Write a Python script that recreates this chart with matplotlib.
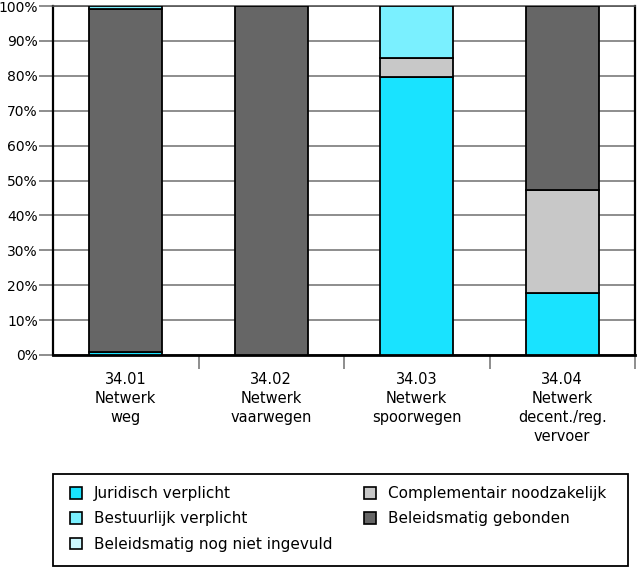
import matplotlib
matplotlib.use("Agg")
import matplotlib.pyplot as plt
from matplotlib.patches import Patch, Rectangle
import numpy as np

categories = ["34.01\nNetwerk\nweg", "34.02\nNetwerk\nvaarwegen",
              "34.03\nNetwerk\nspoorwegen", "34.04\nNetwerk\ndecent./reg.\nvervoer"]
series_names = ["Juridisch verplicht", "Bestuurlijk verplicht",
                "Beleidsmatig nog niet ingevuld", "Complementair noodzakelijk",
                "Beleidsmatig gebonden"]
juridisch = [0.8, 0.0, 79.6, 17.8]
bestuurlijk = [0.8, 0.0, 14.9, 0.0]
nog_niet = [0.0, 0.0, 0.0, 0.0]
complementair = [0.0, 0.0, 5.5, 29.5]
gebonden = [98.4, 100.0, 0.0, 52.7]
colors = {"Juridisch verplicht": "#19E3FF",
          "Bestuurlijk verplicht": "#7AF0FF",
          "Beleidsmatig nog niet ingevuld": "#CCF8FF",
          "Complementair noodzakelijk": "#C8C8C8",
          "Beleidsmatig gebonden": "#666666"}
y_ticks = [0, 10, 20, 30, 40, 50, 60, 70, 80, 90, 100]

plt.rcParams['font.family'] = ['DejaVu Sans']
W, H = 637, 568
fig = plt.figure(figsize=(W/100, H/100), dpi=100)
ax = fig.add_axes([53/W, 1-355/H, (635-53)/W, (355-6)/H])

x = np.arange(len(categories))
stack_order = [("Juridisch verplicht", juridisch),
               ("Complementair noodzakelijk", complementair),
               ("Beleidsmatig gebonden", gebonden),
               ("Bestuurlijk verplicht", bestuurlijk),
               ("Beleidsmatig nog niet ingevuld", nog_niet)]
bottom = np.zeros(len(categories))
for name, vals in stack_order:
    v = np.array(vals, dtype=float)
    mask = v > 0
    ax.bar(x[mask], v[mask], bottom=bottom[mask], width=0.5, color=colors[name],
           edgecolor="black", linewidth=1.3, zorder=3)
    bottom += v

ax.set_xlim(-0.5, 3.5)
ax.set_ylim(0, 100)
ax.set_yticks(y_ticks)
ax.set_yticklabels([f"{t}%" for t in y_ticks], fontsize=10)
ax.yaxis.grid(True, color="#7a7a7a", linewidth=1.2, zorder=0)
ax.set_axisbelow(True)
ax.tick_params(axis="y", length=10, width=1.2, color="#7a7a7a", pad=1)

ax.set_xticks([0.5, 1.5, 2.5, 3.5])
ax.set_xticklabels([])
ax.set_xticks(x, minor=True)
ax.set_xticklabels(categories, minor=True, fontsize=10.5, linespacing=1.35, va="top")
ax.tick_params(axis="x", which="major", length=10, width=1.2, color="#7a7a7a")
ax.tick_params(axis="x", which="minor", length=0, pad=12)

for s in ["left", "right"]:
    ax.spines[s].set_linewidth(1.6)
ax.spines["bottom"].set_linewidth(2.0)
ax.spines["top"].set_linewidth(1.2)
ax.spines["top"].set_color("#555555")

# legend frame
fig.patches.append(Rectangle((53/W, 1-566/H), (628-53)/W, (566-474)/H,
                             transform=fig.transFigure, facecolor="white",
                             edgecolor="black", linewidth=1.3, zorder=0))

handles = [Patch(facecolor=colors[n], edgecolor="black", linewidth=1.2) for n in series_names]
leg = fig.legend(handles, series_names, ncol=2, loc="center",
                 bbox_to_anchor=(70/W, 1-565/H, (606-70)/W, 92/H),
                 mode="expand", fontsize=11, frameon=False,
                 handlelength=0.8, handleheight=0.8,
                 handletextpad=0.75, labelspacing=0.68, borderaxespad=0,
                 borderpad=0, columnspacing=2)

fig.savefig("out.png", dpi=100)
